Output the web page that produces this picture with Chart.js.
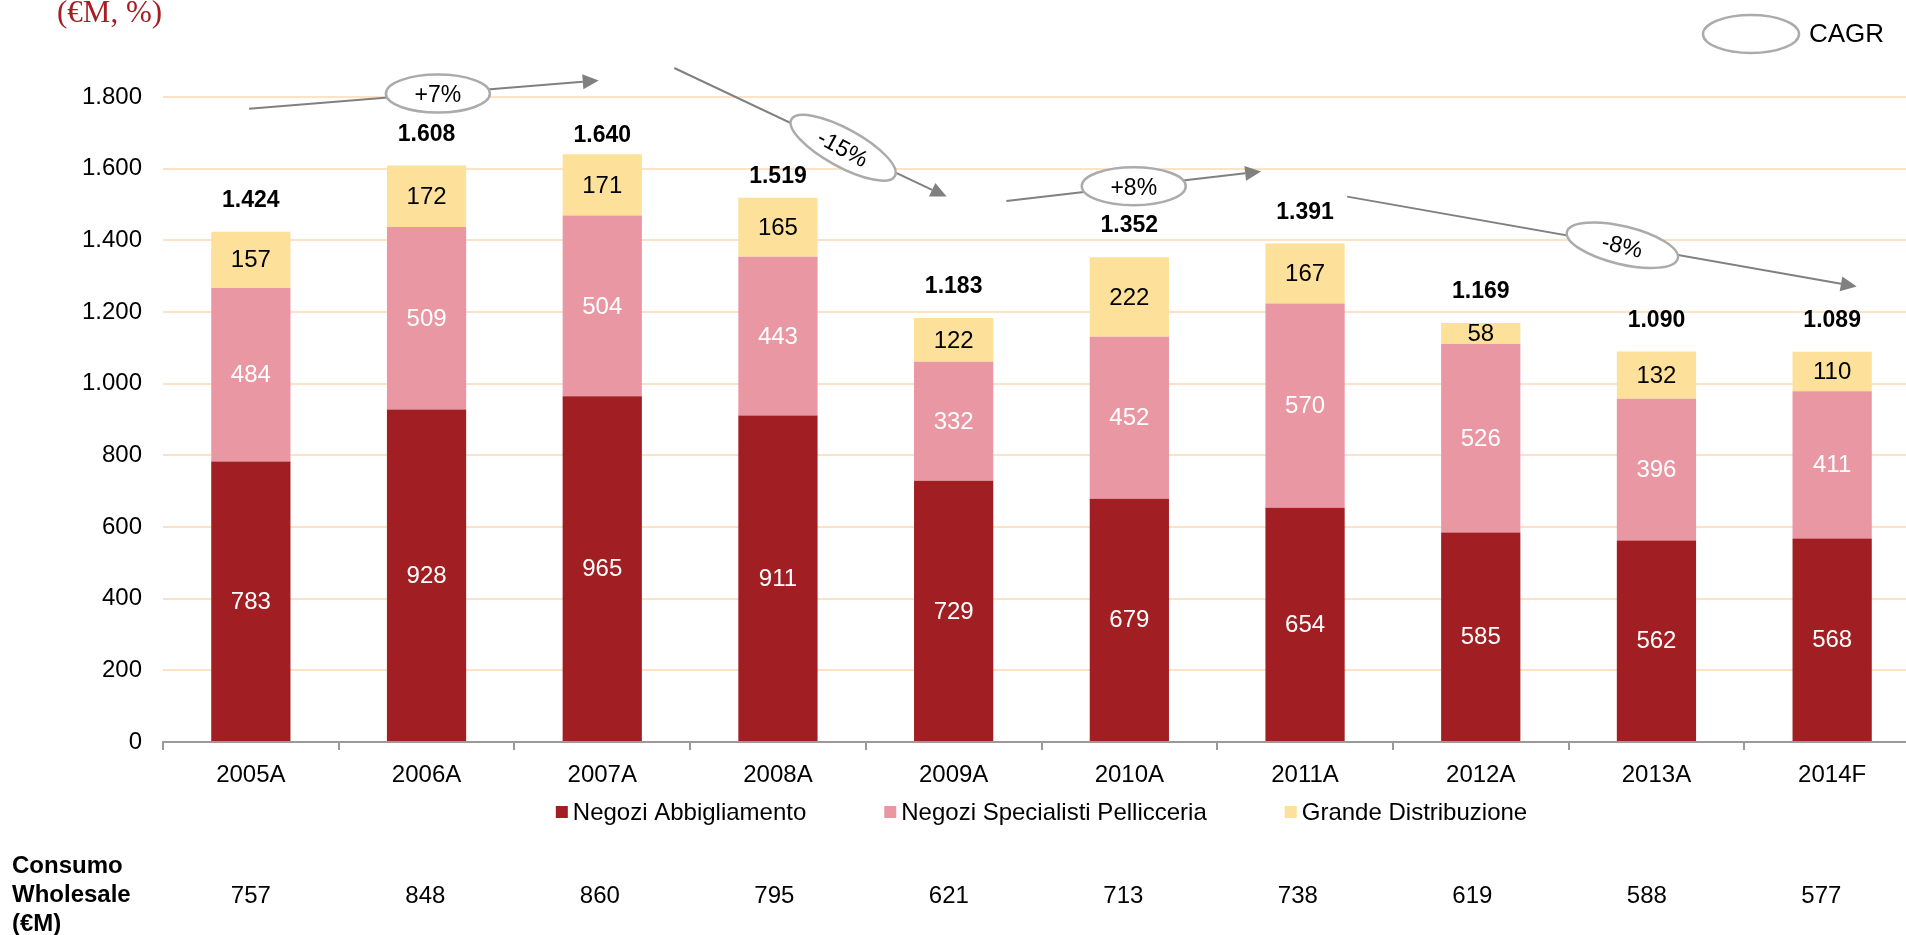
<!DOCTYPE html>
<html>
<head>
<meta charset="utf-8">
<script src="https://cdn.jsdelivr.net/npm/chart.js@4"></script>
<style>
  html, body { margin: 0; padding: 0; background: #fff; overflow: hidden; }
  #wrap { width: 1920px; height: 935px; }
</style>
</head>
<body>
<div id="wrap"><canvas id="mercatoChart" width="1920" height="935"></canvas></div>
<script>
// --- Data ---
const categories = ['2005A', '2006A', '2007A', '2008A', '2009A', '2010A', '2011A', '2012A', '2013A', '2014F'];
const negoziAbbigliamento = [783, 928, 965, 911, 729, 679, 654, 585, 562, 568];
const negoziPellicceria = [484, 509, 504, 443, 332, 452, 570, 526, 396, 411];
const grandeDistribuzione = [157, 172, 171, 165, 122, 222, 167, 58, 132, 110];
const totals = [1424, 1608, 1640, 1519, 1183, 1352, 1391, 1169, 1090, 1089];
const consumoWholesale = [757, 848, 860, 795, 621, 713, 738, 619, 588, 577];
const yTickStep = 200;
const yMax = 1800;

// CAGR arrows: start / end as [category index, value]
const cagrLabels = ['+7%', '-15%', '+8%', '-8%'];
const cagrFrom = [[-0.01, 1767], [2.41, 1881], [4.30, 1510], [6.24, 1522]];
const cagrTo = [[1.98, 1846], [3.96, 1522], [5.75, 1592], [9.14, 1271]];

// --- Styles ---
const FONT = '"Liberation Sans", Arial, sans-serif';
const colAbb = '#A11F22';
const colPel = '#E897A3';
const colGde = '#FDE09A';
const segLabelColors = ['#ffffff', '#ffffff', '#000000'];
const totalLift = [31, 31, 19, 21, 31, 32, 31, 31, 31, 31];
const cagrPos = [0.54, 0.62, 0.50, 0.54];
const cagrTilt = [false, true, false, true];
const cagrRx = [52, 59, 52, 57];

function fmtIt(v) {
    return String(v).replace(/\B(?=(\d{3})+(?!\d))/g, '.');
}

function drawEllipseLabel(ctx, cx, cy, angle, text, rx) {
    ctx.save();
    ctx.translate(cx, cy);
    ctx.rotate(angle);
    ctx.beginPath();
    ctx.ellipse(0, 0, rx, 19, 0, 0, Math.PI * 2);
    ctx.fillStyle = '#ffffff';
    ctx.fill();
    ctx.lineWidth = 2.5;
    ctx.strokeStyle = '#ABABAB';
    ctx.stroke();
    if (text) {
        ctx.fillStyle = '#000';
        ctx.font = '23px ' + FONT;
        ctx.textAlign = 'center';
        ctx.textBaseline = 'middle';
        ctx.fillText(text, 0, 2);
    }
    ctx.restore();
}

const annotatePlugin = {
    id: 'annotate',
    afterDatasetsDraw(chart) {
        const ctx = chart.ctx;
        const xs = chart.scales.x;
        const ys = chart.scales.y;
        ctx.save();

        // values inside the segments
        ctx.font = '24px ' + FONT;
        ctx.textAlign = 'center';
        ctx.textBaseline = 'middle';
        chart.data.datasets.forEach((ds, di) => {
            const meta = chart.getDatasetMeta(di);
            ctx.fillStyle = segLabelColors[di];
            meta.data.forEach((bar, i) => {
                ctx.fillText(ds.data[i], bar.x, (bar.y + bar.base) / 2 + 1);
            });
        });

        // totals above the stacks
        const topMeta = chart.getDatasetMeta(chart.data.datasets.length - 1);
        ctx.font = 'bold 23px ' + FONT;
        ctx.fillStyle = '#000';
        topMeta.data.forEach((bar, i) => {
            ctx.fillText(fmtIt(totals[i]), bar.x, bar.y - totalLift[i]);
        });

        // CAGR arrows
        cagrLabels.forEach((lab, k) => {
            const x0 = xs.getPixelForValue(cagrFrom[k][0]);
            const y0 = ys.getPixelForValue(cagrFrom[k][1]);
            const x1 = xs.getPixelForValue(cagrTo[k][0]);
            const y1 = ys.getPixelForValue(cagrTo[k][1]);
            const ang = Math.atan2(y1 - y0, x1 - x0);
            const headLen = 16, headHalf = 7.5;
            const bx = x1 - Math.cos(ang) * headLen;
            const by = y1 - Math.sin(ang) * headLen;
            ctx.strokeStyle = '#808080';
            ctx.fillStyle = '#808080';
            ctx.lineWidth = 2;
            ctx.beginPath();
            ctx.moveTo(x0, y0);
            ctx.lineTo(bx, by);
            ctx.stroke();
            ctx.beginPath();
            ctx.moveTo(x1, y1);
            ctx.lineTo(bx + Math.sin(ang) * headHalf, by - Math.cos(ang) * headHalf);
            ctx.lineTo(bx - Math.sin(ang) * headHalf, by + Math.cos(ang) * headHalf);
            ctx.closePath();
            ctx.fill();
            const t = cagrPos[k];
            drawEllipseLabel(ctx, x0 + (x1 - x0) * t, y0 + (y1 - y0) * t,
                cagrTilt[k] ? ang + 0.06 : 0, lab, cagrRx[k]);
        });

        // CAGR key, top right
        drawEllipseLabel(ctx, 1751, 34, 0, '', 48);
        ctx.fillStyle = '#000';
        ctx.font = '26px ' + FONT;
        ctx.textAlign = 'left';
        ctx.textBaseline = 'middle';
        ctx.fillText('CAGR', 1809, 35);

        // unit caption, top left
        ctx.fillStyle = '#A51E22';
        ctx.font = '31px "Liberation Serif", "Times New Roman", serif';
        ctx.textAlign = 'left';
        ctx.textBaseline = 'alphabetic';
        ctx.fillText('(\u20ACM, %)', 57, 22);

        // legend, centred under the plot
        ctx.font = '24px ' + FONT;
        ctx.textBaseline = 'middle';
        const items = chart.data.datasets.map(ds => ({
            text: ds.label, color: ds.backgroundColor,
            w: 17 + ctx.measureText(ds.label).width
        }));
        const gap = 78;
        const totalW = items.reduce((a, it) => a + it.w, 0) + gap * (items.length - 1);
        let lx = (chart.chartArea.left + chart.chartArea.right) / 2 - totalW / 2;
        const ly = 812;
        items.forEach(it => {
            ctx.fillStyle = it.color;
            ctx.fillRect(lx, ly - 6, 12, 12);
            ctx.fillStyle = '#000';
            ctx.fillText(it.text, lx + 17, ly + 1);
            lx += it.w + gap;
        });

        // Consumo Wholesale row
        ctx.font = 'bold 24px ' + FONT;
        ctx.textAlign = 'left';
        ctx.fillStyle = '#000';
        ctx.fillText('Consumo', 12, 866);
        ctx.fillText('Wholesale', 12, 895);
        ctx.fillText('(\u20ACM)', 12, 924);
        ctx.font = '24px ' + FONT;
        ctx.textAlign = 'center';
        consumoWholesale.forEach((v, i) => {
            ctx.fillText(fmtIt(v), xs.getPixelForValue(i) - i * 1.2, 896);
        });

        ctx.restore();
    }
};

const ctxMain = document.getElementById('mercatoChart').getContext('2d');
const mercatoChart = new Chart(ctxMain, {
    type: 'bar',
    data: {
        labels: categories,
        datasets: [{
            label: 'Negozi Abbigliamento',
            data: negoziAbbigliamento,
            backgroundColor: colAbb
        }, {
            label: 'Negozi Specialisti Pellicceria',
            data: negoziPellicceria,
            backgroundColor: colPel
        }, {
            label: 'Grande Distribuzione',
            data: grandeDistribuzione,
            backgroundColor: colGde
        }]
    },
    options: {
        responsive: false,
        animation: false,
        layout: {
            padding: { top: 97, right: 0, bottom: 0, left: 0 }
        },
        datasets: {
            bar: {
                categoryPercentage: 1,
                barPercentage: 0.451,
                borderWidth: 0
            }
        },
        plugins: {
            legend: { display: false },
            tooltip: { enabled: false }
        },
        scales: {
            x: {
                stacked: true,
                afterFit: function(scale) { scale.height = 193; },
                grid: {
                    display: true,
                    drawOnChartArea: false,
                    drawTicks: true,
                    tickLength: 8,
                    offset: true,
                    color: '#9A9A9A',
                    lineWidth: 2
                },
                border: { display: true, color: '#9A9A9A', width: 2 },
                ticks: {
                    color: '#000',
                    padding: 11,
                    font: { family: FONT, size: 24 }
                }
            },
            y: {
                stacked: true,
                min: 0,
                max: yMax,
                afterFit: function(scale) { scale.width = 163; },
                grid: {
                    color: '#FDE2C8',
                    lineWidth: 2,
                    drawTicks: false
                },
                border: { display: false },
                ticks: {
                    stepSize: yTickStep,
                    color: '#000',
                    padding: 21,
                    font: { family: FONT, size: 24 },
                    callback: function(value) { return fmtIt(value); }
                }
            }
        }
    },
    plugins: [annotatePlugin]
});
</script>
</body>
</html>
